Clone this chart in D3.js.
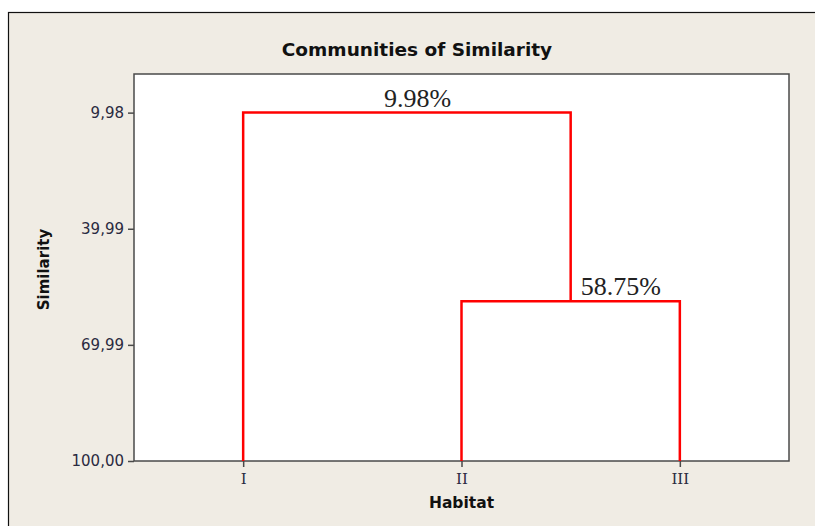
<!DOCTYPE html>
<html lang="en">
<head>
<meta charset="UTF-8">
<title>Communities of Similarity</title>
<script src="https://d3js.org/d3.v7.min.js"></script>
<style>
    body { margin: 0; background: #fff; }
    svg { display: block; }
    .tick-label { font: 15px "DejaVu Sans", sans-serif; fill: #2a2a40; }
    .cat-label { font: 15px "DejaVu Serif", serif; fill: #2a2a40; }
</style>
</head>
<body>
<svg id="chart" width="815" height="526"></svg>
<script>
// Data
const habitats = ["I", "II", "III"];
const yTicks = [9.98, 39.99, 69.99, 100.00];
const yTickLabels = ["9,98", "39,99", "69,99", "100,00"];
// merges: [left cluster, right cluster, similarity level]
const mergeLeft = ["II", "I"];
const mergeRight = ["III", "II+III"];
const mergeLevel = [58.75, 9.98];
const mergeLabels = ["58.75%", "9.98%"];

const svg = d3.select("#chart");
const W = 815, H = 526;
const margin = { top: 74, right: 26, bottom: 65, left: 134 };
const width = W - margin.left - margin.right;
const height = H - margin.top - margin.bottom;

// outer frame
svg.append("rect").attr("x", 0).attr("y", 0).attr("width", W).attr("height", H).attr("fill", "#fff");
svg.append("rect").attr("x", 8.5).attr("y", 12.5).attr("width", W).attr("height", H)
    .attr("fill", "#f0ece4").attr("stroke", "#111").attr("stroke-width", 1.2);

const g = svg.append("g").attr("transform", `translate(${margin.left},${margin.top})`);

g.append("rect").attr("width", width).attr("height", height)
    .attr("fill", "#fff").attr("stroke", "#4a4a4a").attr("stroke-width", 1.5);

const x = d3.scalePoint().domain(habitats).range([0, width]).padding(0.5);
const y = d3.scaleLinear().domain([0, 100]).range([0, height]);

// y axis
const yAxis = g.append("g")
    .call(d3.axisLeft(y).tickValues(yTicks).tickFormat((d, i) => yTickLabels[i]).tickSize(6).tickPadding(4));
yAxis.select(".domain").remove();
yAxis.selectAll("line").attr("stroke", "#4a4a4a").attr("stroke-width", 1.5);
yAxis.selectAll("text").attr("class", "tick-label");

// x axis
const xAxis = g.append("g").attr("transform", `translate(0,${height})`)
    .call(d3.axisBottom(x).tickSize(6).tickPadding(6));
xAxis.select(".domain").remove();
xAxis.selectAll("line").attr("stroke", "#4a4a4a").attr("stroke-width", 1.5);
xAxis.selectAll("text").attr("class", "cat-label");

// dendrogram links
const pos = {};
habitats.forEach(h => pos[h] = { x: x(h), y: y(100) });
const links = g.append("g").attr("fill", "none").attr("stroke", "#ff0000").attr("stroke-width", 2.5);
mergeLevel.forEach((lvl, i) => {
    const a = pos[mergeLeft[i]], b = pos[mergeRight[i]];
    const yy = y(lvl);
    links.append("path").attr("d", `M${a.x},${a.y}V${yy}H${b.x}V${b.y}`);
    pos[mergeLeft[i] + "+" + mergeRight[i]] = { x: (a.x + b.x) / 2, y: yy };
    g.append("text")
        .attr("x", i === 0 ? (a.x + b.x) / 2 + 10 : (a.x + b.x) / 2 - 23)
        .attr("y", yy - 6)
        .attr("font-family", "'Liberation Serif', 'Times New Roman', serif")
        .attr("font-size", 26)
        .attr("fill", "#222")
        .text(mergeLabels[i]);
});

// titles
svg.append("text").attr("x", 417).attr("y", 56).attr("text-anchor", "middle")
    .attr("font-family", "'DejaVu Sans', sans-serif").attr("font-weight", "bold").attr("font-size", 18.5)
    .attr("fill", "#111").text("Communities of Similarity");
svg.append("text").attr("x", margin.left + x("II")).attr("y", 508).attr("text-anchor", "middle")
    .attr("font-family", "'DejaVu Sans', sans-serif").attr("font-weight", "bold").attr("font-size", 15.5)
    .attr("fill", "#111").text("Habitat");
svg.append("text").attr("transform", `translate(49,${margin.top + height / 2 + 2}) rotate(-90)`)
    .attr("text-anchor", "middle")
    .attr("font-family", "'DejaVu Sans', sans-serif").attr("font-weight", "bold").attr("font-size", 15)
    .attr("fill", "#111").text("Similarity");
</script>
</body>
</html>
